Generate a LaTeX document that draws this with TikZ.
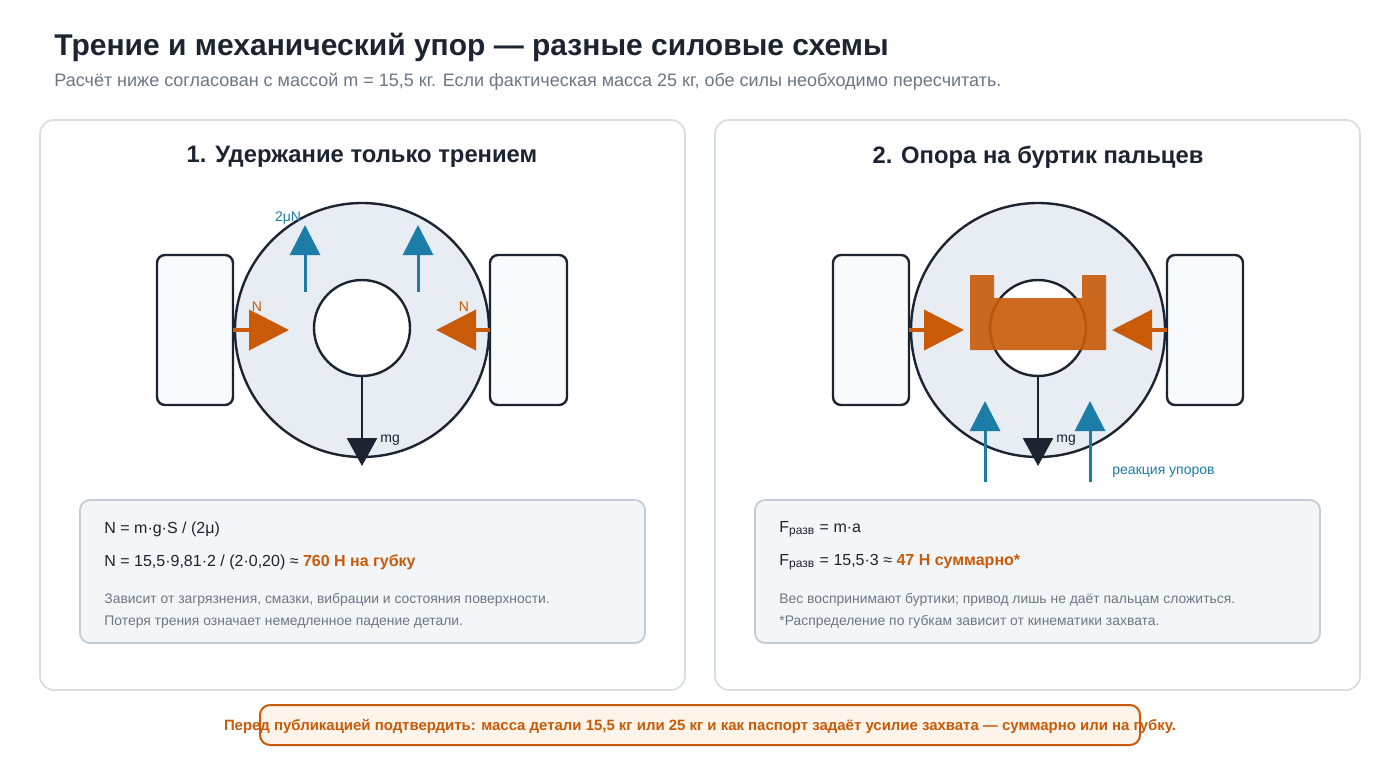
\documentclass[tikz,border=0pt]{standalone}
\usepackage{fontspec}
\setmainfont{Liberation Sans}
\usetikzlibrary{arrows.meta, positioning}
\definecolor{colorDark}{HTML}{1B2430}
\definecolor{colorForce}{HTML}{C85A08}
\definecolor{colorLift}{HTML}{1C7DA6}
\definecolor{colorDisc}{HTML}{E8ECF3}
\definecolor{colorPanel}{HTML}{D9DEE4}
\definecolor{colorBox}{HTML}{F3F6F9}
\definecolor{colorBoxLine}{HTML}{C4CCD6}
\definecolor{colorGrey}{HTML}{6B7785}
\definecolor{colorPad}{HTML}{F8FAFC}
\definecolor{colorWarn}{HTML}{FFF4EA}
\tikzset{
  panel/.style={draw=colorPanel, line width=0.9pt, rounded corners=7pt, fill=white},
  pad/.style={draw=colorDark, line width=1.2pt, rounded corners=4pt, fill=colorPad},
  disc/.style={draw=colorDark, line width=1.2pt, fill=colorDisc},
  hole/.style={draw=colorDark, line width=1.2pt, fill=white},
  push/.style={colorForce, line width=2pt, -{Triangle[length=20pt, width=20pt]}},
  lift/.style={colorLift, line width=1.5pt, -{Triangle[length=15pt, width=15pt]}},
  weight/.style={colorDark, line width=1.2pt, -{Triangle[length=14pt, width=15pt]}},
  formula/.style={draw=colorBoxLine, line width=0.9pt, rounded corners=5pt, fill=colorBox},
  txt/.style={inner sep=0pt, anchor=west, font=\fontsize{8}{9}\selectfont, text=colorDark},
  note/.style={inner sep=0pt, anchor=west, font=\fontsize{6.95}{8}\selectfont, text=colorGrey},
  head/.style={inner sep=0pt, font=\bfseries\fontsize{11.9}{14}\selectfont, text=colorDark},
}
\begin{document}
\begin{tikzpicture}[x=0.5pt, y=-0.5pt]
\useasboundingbox (0,0) rectangle (1400,760);
\fill[white] (0,0) rectangle (1400,760);
% title
\node[inner sep=0pt, anchor=west, font=\bfseries\fontsize{15}{18}\selectfont, text=colorDark] (title) at (54,47) {Трение и механический упор — разные силовые схемы};
\node[inner sep=0pt, anchor=west, font=\fontsize{9}{11}\selectfont, text=colorGrey] (sub) at (54,82) {Расчёт ниже согласован с массой m = 15,5 кг. Если фактическая масса 25 кг, обе силы необходимо пересчитать.};
% panels
\draw[panel] (40,120) rectangle (685,690);
\draw[panel] (715,120) rectangle (1360,690);
\node[head] (h1) at (362,157) {1. Удержание только трением};
\node[head] (h2) at (1038,157) {2. Опора на буртик пальцев};

% panel 1: friction
\draw[pad] (157,255) rectangle (233,405);
\draw[pad] (490,255) rectangle (567,405);
\draw[disc] (362,330) circle (127);
\draw[hole] (362,328) circle (48);
\coordinate (aL) at (233,330); \coordinate (aLt) at (289,330);
\coordinate (aR) at (490,330); \coordinate (aRt) at (436,330);
\draw[push] (aL) -- (aLt);
\draw[push] (aR) -- (aRt);
\node[font=\fontsize{7}{8}\selectfont, text=colorForce, inner sep=0pt] (n1) at (257,307) {N};
\node[font=\fontsize{7}{8}\selectfont, text=colorForce, inner sep=0pt] (n2) at (464,307) {N};
\coordinate (u1) at (305,292); \coordinate (u1t) at (305,225);
\coordinate (u2) at (418,292); \coordinate (u2t) at (418,225);
\draw[lift] (u1) -- (u1t);
\draw[lift] (u2) -- (u2t);
\node[font=\fontsize{7}{8}\selectfont, text=colorLift, inner sep=0pt] (mu) at (288,218) {2μN};
\coordinate (g1) at (362,376); \coordinate (g1t) at (362,466);
\draw[weight] (g1) -- (g1t);
\node[font=\fontsize{7}{8}\selectfont, text=colorDark, inner sep=0pt, anchor=west] (mg1) at (380,440) {mg};

% panel 2: shoulder
\draw[pad] (833,255) rectangle (909,405);
\draw[pad] (1167,255) rectangle (1243,405);
\draw[disc] (1038,330) circle (127);
\draw[hole] (1038,328) circle (48);
\fill[colorForce, opacity=0.9] (970,275) -- (994,275) -- (994,298) -- (1082,298) -- (1082,275) -- (1106,275) -- (1106,350) -- (970,350) -- cycle;
\coordinate (bL) at (909,330); \coordinate (bLt) at (964,330);
\coordinate (bR) at (1167,330); \coordinate (bRt) at (1112,330);
\draw[push] (bL) -- (bLt);
\draw[push] (bR) -- (bRt);
\coordinate (r1) at (985,482); \coordinate (r1t) at (985,401);
\coordinate (r2) at (1090,482); \coordinate (r2t) at (1090,401);
\draw[lift] (r1) -- (r1t);
\draw[lift] (r2) -- (r2t);
\coordinate (g2) at (1038,376); \coordinate (g2t) at (1038,466);
\draw[weight] (g2) -- (g2t);
\node[font=\fontsize{7}{8}\selectfont, text=colorDark, inner sep=0pt, anchor=west] (mg2) at (1056,440) {mg};
\node[font=\fontsize{7}{8}\selectfont, text=colorLift, inner sep=0pt, anchor=west] (react) at (1112,472) {реакция упоров};

% formula boxes
\draw[formula] (80,500) rectangle (645,643);
\node[txt] (f1a) at (104,529) {N = m·g·S / (2μ)};
\node[txt] (f1b) at (104,562) {N = 15,5·9,81·2 / (2·0,20) ≈ \textbf{\textcolor{colorForce}{760 Н на губку}}};
\node[note] (f1c) at (104,600) {Зависит от загрязнения, смазки, вибрации и состояния поверхности.};
\node[note] (f1d) at (104,622) {Потеря трения означает немедленное падение детали.};
\draw[formula] (755,500) rectangle (1320,643);
\node[txt] (f2a) at (779,529) {F\textsubscript{разв} = m·a};
\node[txt] (f2b) at (779,562) {F\textsubscript{разв} = 15,5·3 ≈ \textbf{\textcolor{colorForce}{47 Н суммарно*}}};
\node[note] (f2c) at (779,600) {Вес воспринимают буртики; привод лишь не даёт пальцам сложиться.};
\node[note] (f2d) at (779,622) {*Распределение по губкам зависит от кинематики захвата.};

% footer
\draw[colorForce, fill=colorWarn, line width=1pt, rounded corners=5pt] (260,705) rectangle (1140,745);
\node[inner sep=0pt, font=\bfseries\fontsize{7.47}{9}\selectfont, text=colorForce] (foot) at (700,726) {Перед публикацией подтвердить: масса детали 15,5 кг или 25 кг и как паспорт задаёт усилие захвата — суммарно или на губку.};
\end{tikzpicture}
\end{document}
